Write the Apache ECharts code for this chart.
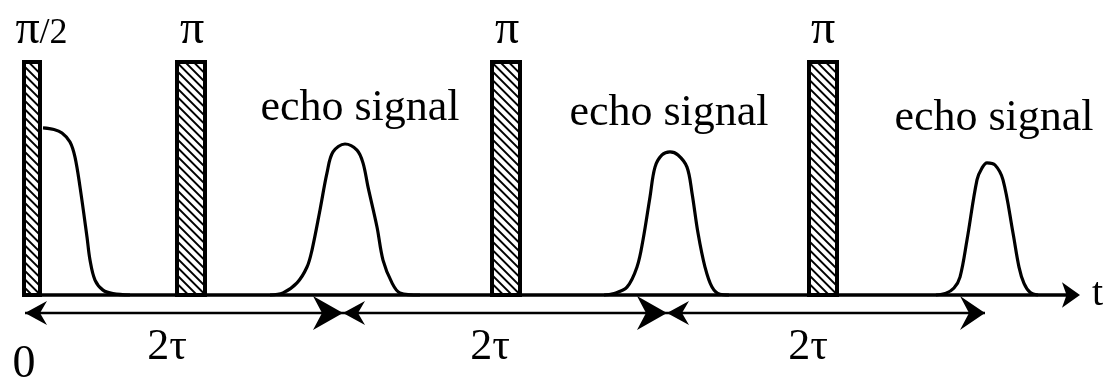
<!DOCTYPE html>
<html>
<head>
<meta charset="utf-8">
<script src="https://cdn.jsdelivr.net/npm/echarts@6/dist/echarts.min.js"></script>
<style>
  html, body { margin: 0; padding: 0; background: #fff; }
  #chart { width: 1109px; height: 383px; }
</style>
</head>
<body>
<div id="chart"></div>
<script>
// ---------- data (time in arbitrary units, amplitude 0..100) ----------
const pulseNames  = ['π/2', 'π', 'π', 'π'];
const pulseStart  = [0, 153, 468, 785];
const pulseEnd    = [16, 181, 496, 813];
const pulseAmp    = [100, 100, 100, 100];
const pulseLabelX = [17.5, 168, 483, 799];
const pulseLabelY = 106.5;

const fidSignal = [[19, 71.7], [30, 71], [38, 69.5], [46, 65.7], [51, 59.2], [56, 46.4], [63, 24.9],
                   [66, 15], [71, 6.4], [79, 2.1], [89, 0.6], [106, 0]];
const echo1 = [[246, 0], [259, 0.9], [273, 5.2], [283, 12], [288, 19.3], [296, 36.5], [303, 52.4],
               [309, 61.4], [321, 64.8], [333, 62.2], [339, 56.7], [344, 46.4], [353, 29.2],
               [359, 15], [368, 5.2], [376, 0.9], [396, 0]];
const echo2 = [[580, 0], [589, 0.5], [603, 3.4], [613, 12], [619, 23.6], [626, 42.1], [631, 54.9],
               [638, 60.1], [646, 61.4], [654, 60.1], [663, 54.9], [668, 43.8], [674, 26.6],
               [681, 12], [688, 3.4], [696, 0.3], [705, 0]];
const echo3 = [[912, 0], [922, 0.8], [930, 3], [936, 7.7], [943, 23.6], [953, 49.4], [958, 54.5],
               [963, 56.7], [971, 55.8], [979, 49.4], [989, 26.6], [995, 12], [1000, 5],
               [1006, 1.2], [1014, 0]];

const echoLabels = ['echo signal', 'echo signal', 'echo signal'];
const echoLabelX = [336, 645, 970];
const echoLabelY = [73.8, 71.7, 69.5];

const spanStart  = [1, 319, 643];
const spanEnd    = [319, 643, 961];
const spanLabels = ['2τ', '2τ', '2τ'];
const spanLabelX = [143, 466, 784];
const spanLabelY = -28.8;
const arrowLevel = -7.7;

const originLabel = '0';
const originX = 0;
const originY = -36.5;

const axisName = 't';

// ---------- rendering ----------
const FONT = '"Liberation Serif", "Times New Roman", serif';
const chart = echarts.init(document.getElementById('chart'), null, { renderer: 'canvas' });

function textEl(x, baselineY, text, size, align) {
  return {
    type: 'text',
    x: x,
    y: baselineY - 0.3375 * size,
    style: {
      text: text,
      font: size + 'px ' + FONT,
      fill: '#000',
      align: align || 'center',
      verticalAlign: 'middle'
    }
  };
}

// pulse label: the π glyph drawn larger than the "/2" part
function pulseLabelEl(x, baselineY, name) {
  const PI = 48, REST = 36;
  const rest = name.slice(1);
  const text = rest ? '{p|' + name[0] + '}{n|' + rest + '}' : '{p|' + name + '}';
  return {
    type: 'text',
    x: x,
    y: baselineY - 0.3375 * PI,
    style: {
      text: text,
      fill: '#000',
      align: 'center',
      verticalAlign: 'middle',
      rich: {
        p: { font: PI + 'px ' + FONT, fill: '#000', verticalAlign: 'bottom' },
        n: { font: REST + 'px ' + FONT, fill: '#000', verticalAlign: 'bottom', padding: [0, 0, 3, 0] }
      }
    }
  };
}

const pulseData = pulseStart.map((s, i) => [s, pulseEnd[i], pulseAmp[i], pulseLabelX[i], pulseNames[i]]);
const spanData = spanStart.map((s, i) => [s, spanEnd[i], spanLabelX[i], spanLabels[i]]);
const echoLabelData = echoLabels.map((t, i) => [echoLabelX[i], echoLabelY[i], t]);

const lineStyle = { color: '#000', width: 3.2 };

function curve(name, data) {
  return {
    name: name, type: 'line', data: data, smooth: 0.35, symbol: 'none',
    lineStyle: lineStyle, z: 3, silent: true
  };
}

const option = {
  animation: false,
  backgroundColor: '#fff',
  grid: { left: 24, right: 39, top: 62, height: 319.2, containLabel: false },
  xAxis: {
    type: 'value', min: 0, max: 1046,
    axisLine: {
      show: true, onZero: true,
      symbol: ['none', 'arrow'], symbolSize: [19, 18], symbolOffset: [0, 10],
      lineStyle: { color: '#000', width: 3.5 }
    },
    axisTick: { show: false },
    axisLabel: { show: false },
    splitLine: { show: false },
    name: axisName,
    nameLocation: 'end',
    nameGap: 22,
    nameTextStyle: { fontFamily: FONT, fontSize: 40, color: '#000', padding: [0, 0, 7, 0] }
  },
  yAxis: { type: 'value', min: -37, max: 100, show: false },
  series: [
    {
      name: 'pulses', type: 'custom', data: pulseData, clip: false, z: 2,
      renderItem: function (params, api) {
        const d = pulseData[params.dataIndex];
        const p0 = api.coord([d[0], d[2]]);
        const p1 = api.coord([d[1], 0]);
        const x0 = p0[0], y0 = p0[1], x1 = p1[0], y1 = p1[1];
        const children = [{
          type: 'rect', shape: { x: x0, y: y0, width: x1 - x0, height: y1 - y0 },
          style: { fill: '#fff', stroke: null }
        }];
        const gap = 8.5;
        for (let k = y0 - x1 + 3; k < y1 - x0; k += gap) {
          const xa = Math.max(x0, y0 - k), xb = Math.min(x1, y1 - k);
          if (xb > xa) {
            children.push({
              type: 'line', shape: { x1: xa, y1: xa + k, x2: xb, y2: xb + k },
              style: { stroke: '#000', lineWidth: 1.8 }
            });
          }
        }
        children.push({
          type: 'rect', shape: { x: x0, y: y0, width: x1 - x0, height: y1 - y0 },
          style: { fill: null, stroke: '#000', lineWidth: 4 }
        });
        const lp = api.coord([d[3], pulseLabelY]);
        children.push(pulseLabelEl(lp[0], lp[1], d[4]));
        return { type: 'group', children: children };
      }
    },
    curve('FID', fidSignal),
    curve('echo 1', echo1),
    curve('echo 2', echo2),
    curve('echo 3', echo3),
    {
      name: 'spans', type: 'custom', data: spanData, clip: false, z: 4,
      renderItem: function (params, api) {
        const d = spanData[params.dataIndex];
        const a = api.coord([d[0], arrowLevel]);
        const b = api.coord([d[1], arrowLevel]);
        const isLast = params.dataIndex === spanData.length - 1;
        const Ll = 22, Hl = 12, Nl = 7;
        const Lr = isLast ? 25 : 30, Hr = 17, Nr = 9;
        const children = [
          { type: 'line', shape: { x1: a[0], y1: a[1], x2: b[0], y2: b[1] },
            style: { stroke: '#000', lineWidth: 2.4 } },
          { type: 'polygon', shape: { points: [[a[0], a[1]], [a[0] + Ll, a[1] - Hl], [a[0] + Ll - Nl, a[1]], [a[0] + Ll, a[1] + Hl]] },
            style: { fill: '#000' } },
          { type: 'polygon', shape: { points: [[b[0], b[1]], [b[0] - Lr, b[1] - Hr], [b[0] - Lr + Nr, b[1]], [b[0] - Lr, b[1] + Hr]] },
            style: { fill: '#000' } }
        ];
        const lp = api.coord([d[2], spanLabelY]);
        children.push(textEl(lp[0], lp[1], d[3], 44));
        return { type: 'group', children: children };
      }
    },
    {
      name: 'echo labels', type: 'custom', data: echoLabelData, clip: false, z: 4,
      renderItem: function (params, api) {
        const d = echoLabelData[params.dataIndex];
        const p = api.coord([d[0], d[1]]);
        return textEl(p[0], p[1], d[2], 44);
      }
    },
    {
      name: 'origin', type: 'custom', data: [[originX, originY, originLabel]], clip: false, z: 4,
      renderItem: function (params, api) {
        const p = api.coord([originX, originY]);
        return textEl(p[0], p[1], originLabel, 46);
      }
    }
  ]
};
chart.setOption(option);
</script>
</body>
</html>
